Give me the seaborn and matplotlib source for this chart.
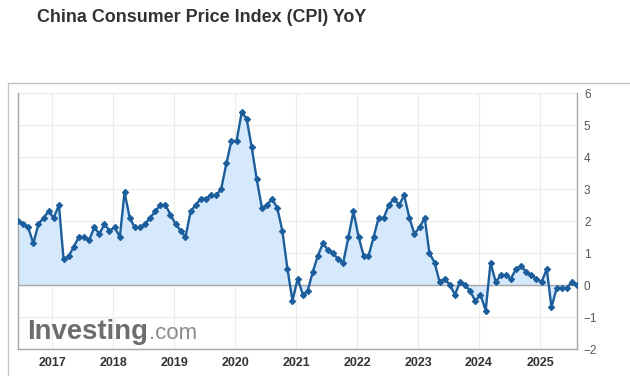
import matplotlib
matplotlib.use("Agg")
import matplotlib.pyplot as plt
import matplotlib.dates as mdates
from matplotlib.lines import Line2D
import numpy as np
import pandas as pd
import seaborn as sns

# China CPI YoY (%), monthly, May 2016 .. Jul 2025 (plotted at release date)
cpi_2016 = [2.0, 1.9, 1.8, 1.3, 1.9, 2.1, 2.3, 2.1]  # May-Dec
cpi_2017 = [2.5, 0.8, 0.9, 1.2, 1.5, 1.5, 1.4, 1.8, 1.6, 1.9, 1.7, 1.8]
cpi_2018 = [1.5, 2.9, 2.1, 1.8, 1.8, 1.9, 2.1, 2.3, 2.5, 2.5, 2.2, 1.9]
cpi_2019 = [1.7, 1.5, 2.3, 2.5, 2.7, 2.7, 2.8, 2.8, 3.0, 3.8, 4.5, 4.5]
cpi_2020 = [5.4, 5.2, 4.3, 3.3, 2.4, 2.5, 2.7, 2.4, 1.7, 0.5, -0.5, 0.2]
cpi_2021 = [-0.3, -0.2, 0.4, 0.9, 1.3, 1.1, 1.0, 0.8, 0.7, 1.5, 2.3, 1.5]
cpi_2022 = [0.9, 0.9, 1.5, 2.1, 2.1, 2.5, 2.7, 2.5, 2.8, 2.1, 1.6, 1.8]
cpi_2023 = [2.1, 1.0, 0.7, 0.1, 0.2, 0.0, -0.3, 0.1, 0.0, -0.2, -0.5, -0.3]
cpi_2024 = [-0.8, 0.7, 0.1, 0.3, 0.3, 0.2, 0.5, 0.6, 0.4, 0.3, 0.2, 0.1]
cpi_2025 = [0.5, -0.7, -0.1, -0.1, -0.1, 0.1, 0.0]  # Jan-Jul

values = (cpi_2016 + cpi_2017 + cpi_2018 + cpi_2019 + cpi_2020 + cpi_2021
          + cpi_2022 + cpi_2023 + cpi_2024 + cpi_2025)
# release dates: about the 10th of the following month
release = pd.date_range("2016-06-01", periods=len(values), freq="MS") + pd.Timedelta(days=9)
df = pd.DataFrame({"date": release, "cpi": values})

years = list(range(2017, 2026))
y_ticks = list(range(-2, 7))

LINE = "#1c5d9c"
FILL = "#d6e9fc"

sns.set_style("white")
plt.rcParams["font.family"] = ["Liberation Sans", "DejaVu Sans"]

fig = plt.figure(figsize=(6.3, 3.76), dpi=100)
ax = fig.add_axes([18 / 630, 27 / 376, 559 / 630, 256 / 376])

ax.fill_between(df["date"], df["cpi"], 0, color=FILL, linewidth=0, zorder=1)
sns.lineplot(data=df, x="date", y="cpi", ax=ax, color=LINE, linewidth=1.7,
             marker="D", markersize=3.2, markeredgecolor=LINE, zorder=3)
ax.axhline(0, color="#a6a6a6", linewidth=1.0, zorder=2)

ax.set_xlim(df["date"].iloc[0], df["date"].iloc[-1])
ax.set_ylim(-2, 6)
ax.set_xticks([pd.Timestamp(f"{y}-01-01") for y in years])
ax.xaxis.set_major_formatter(mdates.DateFormatter("%Y"))
ax.set_yticks(y_ticks)
ax.yaxis.tick_right()
ax.grid(True, color="#ebebeb", linewidth=0.8, zorder=0)
ax.set_axisbelow(True)
ax.tick_params(axis="x", length=0, pad=6, labelsize=9, labelcolor="#333333")
ax.tick_params(axis="y", length=0, pad=5, labelsize=8.5, labelcolor="#555555")
for lab in ax.get_xticklabels():
    lab.set_fontweight("bold")
ax.set_xlabel("")
ax.set_ylabel("")

for side in ["left", "bottom", "right"]:
    ax.spines[side].set_color("#a6a6a6")
    ax.spines[side].set_linewidth(1.0)
ax.spines["top"].set_visible(False)

# outer frame
fig.add_artist(Line2D([8 / 630, 1.0], [293 / 376, 293 / 376], color="#c4c4c4", linewidth=1.0))
fig.add_artist(Line2D([8 / 630, 8 / 630], [0.0, 293 / 376], color="#c4c4c4", linewidth=1.0))

fig.text(37 / 630, 1 - 17 / 376, "China Consumer Price Index (CPI) YoY", fontsize=12.9,
         fontweight="bold", color="#333333", va="center", ha="left")

# watermark
ax.text(0.017, 0.04, "Investing", transform=ax.transAxes, fontsize=19.8,
        fontweight="bold", color="#6d6d6d", va="baseline", ha="left", zorder=4)
ax.text(0.235, 0.04, ".com", transform=ax.transAxes, fontsize=16,
        color="#8a8a8a", va="baseline", ha="left", zorder=4)

fig.savefig("out.png", dpi=100, facecolor="white")
